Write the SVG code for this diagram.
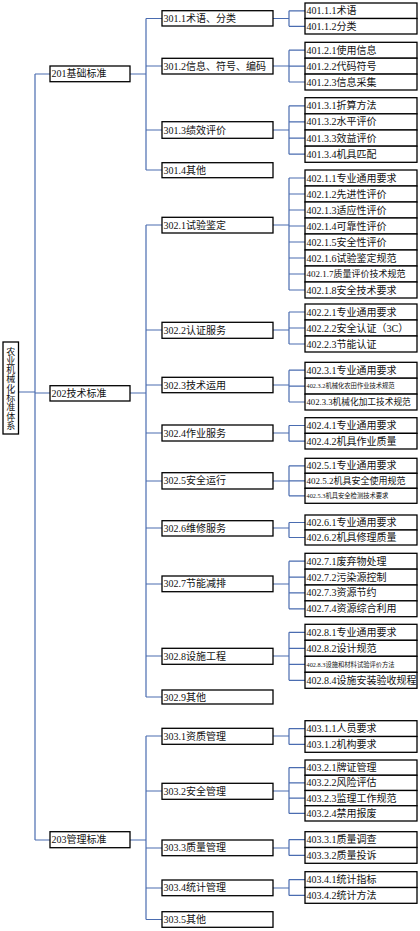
<svg xmlns="http://www.w3.org/2000/svg" width="420" height="931" viewBox="0 0 420 931">
<style>
.b{fill:#fff;stroke:#000;stroke-width:1.3}
.t{font-family:"Liberation Serif","Noto Sans CJK SC",serif;font-size:10px;fill:#111}
.s9{font-size:9px}.s87{font-size:8.7px}.s6{font-size:6.3px}
.c{stroke:#4a6cb0;stroke-width:1.2;fill:none}
</style>
<rect width="420" height="931" fill="#fff"/>
<g id="connectors" class="c">
<path d="M18 392H35M35 74V840M35 74H50M35 393H50M35 840H50"/>
<path d="M130 74H146M146 18.5V170M146 18.5H162M146 66H162M146 130H162M146 170H162"/>
<path d="M130 393H146M146 225V697M146 225H162M146 330H162M146 385H162M146 433H162M146 481H162M146 528H162M146 584H162M146 656H162M146 697H162"/>
<path d="M130 840H146M146 736V919.5M146 736H162M146 791H162M146 848H162M146 888H162M146 919.5H162"/>
<path d="M273 18.5H289M289 10.8V26.3M289 10.8H305M289 26.3H305"/>
<path d="M273 66H289M289 50.2V82M289 50.2H305M289 66.1H305M289 82H305"/>
<path d="M273 130H289M289 105.8V154.2M289 105.8H305M289 121.9H305M289 138.1H305M289 154.2H305"/>
<path d="M273 225H289M289 178V290M289 178H305M289 194H305M289 210H305M289 226H305M289 242H305M289 258H305M289 274H305M289 290H305"/>
<path d="M273 330H289M289 312V344M289 312H305M289 328H305M289 344H305"/>
<path d="M273 385H289M289 370.2V402M289 370.2H305M289 386.1H305M289 402H305"/>
<path d="M273 433H289M289 425.5V441.2M289 425.5H305M289 441.2H305"/>
<path d="M273 481H289M289 465.8V495.8M289 465.8H305M289 480.8H305M289 495.8H305"/>
<path d="M273 528H289M289 522.5V537.5M289 522.5H305M289 537.5H305"/>
<path d="M273 584H289M289 561.2V608.8M289 561.2H305M289 577.1H305M289 592.9H305M289 608.8H305"/>
<path d="M273 656H289M289 632.3V680.3M289 632.3H305M289 648.3H305M289 664.3H305M289 680.3H305"/>
<path d="M273 736H289M289 728.6V744.4M289 728.6H305M289 744.4H305"/>
<path d="M273 791H289M289 767.6V813.4M289 767.6H305M289 782.9H305M289 798.1H305M289 813.4H305"/>
<path d="M273 848H289M289 839.6V855.4M289 839.6H305M289 855.4H305"/>
<path d="M273 888H289M289 879.6V895.4M289 879.6H305M289 895.4H305"/>
</g>
<g id="root"><rect class="b" x="3" y="342" width="15.5" height="92"/>
<text class="t" style="font-size:9px" text-anchor="middle"><tspan x="10.7" y="354.5">农</tspan><tspan x="10.7" dy="9.3">业</tspan><tspan x="10.7" dy="9.3">机</tspan><tspan x="10.7" dy="9.3">械</tspan><tspan x="10.7" dy="9.3">化</tspan><tspan x="10.7" dy="9.3">标</tspan><tspan x="10.7" dy="9.3">准</tspan><tspan x="10.7" dy="9.3">体</tspan><tspan x="10.7" dy="9.3">系</tspan></text></g>
<g id="n201"><rect class="b" x="50" y="66" width="80" height="15.7"/><text class="t" x="51.5" y="77.4">201基础标准</text></g>
<g id="n202"><rect class="b" x="50" y="385.7" width="80" height="15.3"/><text class="t" x="51.5" y="396.9">202技术标准</text></g>
<g id="n203"><rect class="b" x="50" y="831.7" width="80" height="16"/><text class="t" x="51.5" y="843.2">203管理标准</text></g>
<g id="n301_1"><rect class="b" x="162" y="10.7" width="111" height="15.3"/><text class="t" x="163.5" y="21.9">301.1术语、分类</text></g>
<g id="n301_2"><rect class="b" x="162" y="58.3" width="111" height="15.7"/><text class="t" x="163.5" y="69.6">301.2信息、符号、编码</text></g>
<g id="n301_3"><rect class="b" x="162" y="121.7" width="111" height="16.6"/><text class="t" x="163.5" y="133.5">301.3绩效评价</text></g>
<g id="n301_4"><rect class="b" x="162" y="162.7" width="111" height="15"/><text class="t" x="163.5" y="173.7">301.4其他</text></g>
<g id="n302_1"><rect class="b" x="162" y="217.3" width="111" height="15.7"/><text class="t" x="163.5" y="228.6">302.1试验鉴定</text></g>
<g id="n302_2"><rect class="b" x="162" y="322.3" width="111" height="16"/><text class="t" x="163.5" y="333.8">302.2认证服务</text></g>
<g id="n302_3"><rect class="b" x="162" y="377.3" width="111" height="15.4"/><text class="t" x="163.5" y="388.5">302.3技术运用</text></g>
<g id="n302_4"><rect class="b" x="162" y="425" width="111" height="16"/><text class="t" x="163.5" y="436.5">302.4作业服务</text></g>
<g id="n302_5"><rect class="b" x="162" y="472.7" width="111" height="16.3"/><text class="t" x="163.5" y="484.3">302.5安全运行</text></g>
<g id="n302_6"><rect class="b" x="162" y="520.7" width="111" height="15.3"/><text class="t" x="163.5" y="531.9">302.6维修服务</text></g>
<g id="n302_7"><rect class="b" x="162" y="576" width="111" height="15.7"/><text class="t" x="163.5" y="587.3">302.7节能减排</text></g>
<g id="n302_8"><rect class="b" x="162" y="648.3" width="111" height="16"/><text class="t" x="163.5" y="659.8">302.8设施工程</text></g>
<g id="n302_9"><rect class="b" x="162" y="690" width="111" height="14"/><text class="t" x="163.5" y="700.5">302.9其他</text></g>
<g id="n303_1"><rect class="b" x="162" y="728.3" width="111" height="16"/><text class="t" x="163.5" y="739.8">303.1资质管理</text></g>
<g id="n303_2"><rect class="b" x="162" y="783.3" width="111" height="16"/><text class="t" x="163.5" y="794.8">303.2安全管理</text></g>
<g id="n303_3"><rect class="b" x="162" y="840" width="111" height="15.7"/><text class="t" x="163.5" y="851.3">303.3质量管理</text></g>
<g id="n303_4"><rect class="b" x="162" y="880" width="111" height="15.7"/><text class="t" x="163.5" y="891.3">303.4统计管理</text></g>
<g id="n303_5"><rect class="b" x="162" y="911.7" width="111" height="15.6"/><text class="t" x="163.5" y="923">303.5其他</text></g>
<g id="n401_1_1"><rect class="b" x="305" y="3" width="112" height="15.5"/><text class="t" x="306.5" y="14.3">401.1.1术语</text></g>
<g id="n401_1_2"><rect class="b" x="305" y="18.5" width="112" height="15.5"/><text class="t" x="306.5" y="29.8">401.1.2分类</text></g>
<g id="n401_2_1"><rect class="b" x="305" y="42.3" width="112" height="15.9"/><text class="t" x="306.5" y="53.7">401.2.1使用信息</text></g>
<g id="n401_2_2"><rect class="b" x="305" y="58.2" width="112" height="15.9"/><text class="t" x="306.5" y="69.6">401.2.2代码符号</text></g>
<g id="n401_2_3"><rect class="b" x="305" y="74.1" width="112" height="15.9"/><text class="t" x="306.5" y="85.5">401.2.3信息采集</text></g>
<g id="n401_3_1"><rect class="b" x="305" y="97.7" width="112" height="16.15"/><text class="t" x="306.5" y="109.3">401.3.1折算方法</text></g>
<g id="n401_3_2"><rect class="b" x="305" y="113.85" width="112" height="16.15"/><text class="t" x="306.5" y="125.4">401.3.2水平评价</text></g>
<g id="n401_3_3"><rect class="b" x="305" y="130" width="112" height="16.15"/><text class="t" x="306.5" y="141.6">401.3.3效益评价</text></g>
<g id="n401_3_4"><rect class="b" x="305" y="146.15" width="112" height="16.15"/><text class="t" x="306.5" y="157.7">401.3.4机具匹配</text></g>
<g id="n402_1_1"><rect class="b" x="305" y="170" width="112" height="16"/><text class="t" x="306.5" y="181.5">402.1.1专业通用要求</text></g>
<g id="n402_1_2"><rect class="b" x="305" y="186" width="112" height="16"/><text class="t" x="306.5" y="197.5">402.1.2先进性评价</text></g>
<g id="n402_1_3"><rect class="b" x="305" y="202" width="112" height="16"/><text class="t" x="306.5" y="213.5">402.1.3适应性评价</text></g>
<g id="n402_1_4"><rect class="b" x="305" y="218" width="112" height="16"/><text class="t" x="306.5" y="229.5">402.1.4可靠性评价</text></g>
<g id="n402_1_5"><rect class="b" x="305" y="234" width="112" height="16"/><text class="t" x="306.5" y="245.5">402.1.5安全性评价</text></g>
<g id="n402_1_6"><rect class="b" x="305" y="250" width="112" height="16"/><text class="t" x="306.5" y="261.5">402.1.6试验鉴定规范</text></g>
<g id="n402_1_7"><rect class="b" x="305" y="266" width="112" height="16"/><text class="t s9" x="306.5" y="277.2">402.1.7质量评价技术规范</text></g>
<g id="n402_1_8"><rect class="b" x="305" y="282" width="112" height="16"/><text class="t" x="306.5" y="293.5">402.1.8安全技术要求</text></g>
<g id="n402_2_1"><rect class="b" x="305" y="304" width="112" height="16"/><text class="t" x="306.5" y="315.5">402.2.1专业通用要求</text></g>
<g id="n402_2_2"><rect class="b" x="305" y="320" width="112" height="16"/><text class="t" x="306.5" y="331.5">402.2.2安全认证（3C）</text></g>
<g id="n402_2_3"><rect class="b" x="305" y="336" width="112" height="16"/><text class="t" x="306.5" y="347.5">402.2.3节能认证</text></g>
<g id="n402_3_1"><rect class="b" x="305" y="362.3" width="112" height="15.9"/><text class="t" x="306.5" y="373.7">402.3.1专业通用要求</text></g>
<g id="n402_3_2"><rect class="b" x="305" y="378.2" width="112" height="15.9"/><text class="t s6" x="306.5" y="388.4">402.3.2机械化农田作业技术规范</text></g>
<g id="n402_3_3"><rect class="b" x="305" y="394.1" width="112" height="15.9"/><text class="t s87" x="306.5" y="405.1">402.3.3机械化加工技术规范</text></g>
<g id="n402_4_1"><rect class="b" x="305" y="417.7" width="112" height="15.65"/><text class="t" x="306.5" y="429">402.4.1专业通用要求</text></g>
<g id="n402_4_2"><rect class="b" x="305" y="433.35" width="112" height="15.65"/><text class="t" x="306.5" y="444.7">402.4.2机具作业质量</text></g>
<g id="n402_5_1"><rect class="b" x="305" y="458.3" width="112" height="15"/><text class="t" x="306.5" y="469.3">402.5.1专业通用要求</text></g>
<g id="n402_5_2"><rect class="b" x="305" y="473.3" width="112" height="15"/><text class="t s9" x="306.5" y="484">402.5.2机具安全使用规范</text></g>
<g id="n402_5_3"><rect class="b" x="305" y="488.3" width="112" height="15"/><text class="t s6" x="306.5" y="498">402.5.3机具安全检测技术要求</text></g>
<g id="n402_6_1"><rect class="b" x="305" y="515" width="112" height="15"/><text class="t" x="306.5" y="526">402.6.1专业通用要求</text></g>
<g id="n402_6_2"><rect class="b" x="305" y="530" width="112" height="15"/><text class="t" x="306.5" y="541">402.6.2机具修理质量</text></g>
<g id="n402_7_1"><rect class="b" x="305" y="553.3" width="112" height="15.85"/><text class="t" x="306.5" y="564.7">402.7.1废弃物处理</text></g>
<g id="n402_7_2"><rect class="b" x="305" y="569.15" width="112" height="15.85"/><text class="t" x="306.5" y="580.6">402.7.2污染源控制</text></g>
<g id="n402_7_3"><rect class="b" x="305" y="585" width="112" height="15.85"/><text class="t" x="306.5" y="596.4">402.7.3资源节约</text></g>
<g id="n402_7_4"><rect class="b" x="305" y="600.85" width="112" height="15.85"/><text class="t" x="306.5" y="612.3">402.7.4资源综合利用</text></g>
<g id="n402_8_1"><rect class="b" x="305" y="624.3" width="112" height="16"/><text class="t" x="306.5" y="635.8">402.8.1专业通用要求</text></g>
<g id="n402_8_2"><rect class="b" x="305" y="640.3" width="112" height="16"/><text class="t" x="306.5" y="651.8">402.8.2设计规范</text></g>
<g id="n402_8_3"><rect class="b" x="305" y="656.3" width="112" height="16"/><text class="t s6" x="306.5" y="666.5">402.8.3设施和材料试验评价方法</text></g>
<g id="n402_8_4"><rect class="b" x="305" y="672.3" width="112" height="16"/><text class="t" x="306.5" y="683.8">402.8.4设施安装验收规程</text></g>
<g id="n403_1_1"><rect class="b" x="305" y="720.7" width="112" height="15.8"/><text class="t" x="306.5" y="732.1">403.1.1人员要求</text></g>
<g id="n403_1_2"><rect class="b" x="305" y="736.5" width="112" height="15.8"/><text class="t" x="306.5" y="747.9">403.1.2机构要求</text></g>
<g id="n403_2_1"><rect class="b" x="305" y="760" width="112" height="15.25"/><text class="t" x="306.5" y="771.1">403.2.1牌证管理</text></g>
<g id="n403_2_2"><rect class="b" x="305" y="775.25" width="112" height="15.25"/><text class="t" x="306.5" y="786.4">403.2.2风险评估</text></g>
<g id="n403_2_3"><rect class="b" x="305" y="790.5" width="112" height="15.25"/><text class="t" x="306.5" y="801.6">403.2.3监理工作规范</text></g>
<g id="n403_2_4"><rect class="b" x="305" y="805.75" width="112" height="15.25"/><text class="t" x="306.5" y="816.9">403.2.4禁用报废</text></g>
<g id="n403_3_1"><rect class="b" x="305" y="831.7" width="112" height="15.8"/><text class="t" x="306.5" y="843.1">403.3.1质量调查</text></g>
<g id="n403_3_2"><rect class="b" x="305" y="847.5" width="112" height="15.8"/><text class="t" x="306.5" y="858.9">403.3.2质量投诉</text></g>
<g id="n403_4_1"><rect class="b" x="305" y="871.7" width="112" height="15.8"/><text class="t" x="306.5" y="883.1">403.4.1统计指标</text></g>
<g id="n403_4_2"><rect class="b" x="305" y="887.5" width="112" height="15.8"/><text class="t" x="306.5" y="898.9">403.4.2统计方法</text></g>
</svg>
